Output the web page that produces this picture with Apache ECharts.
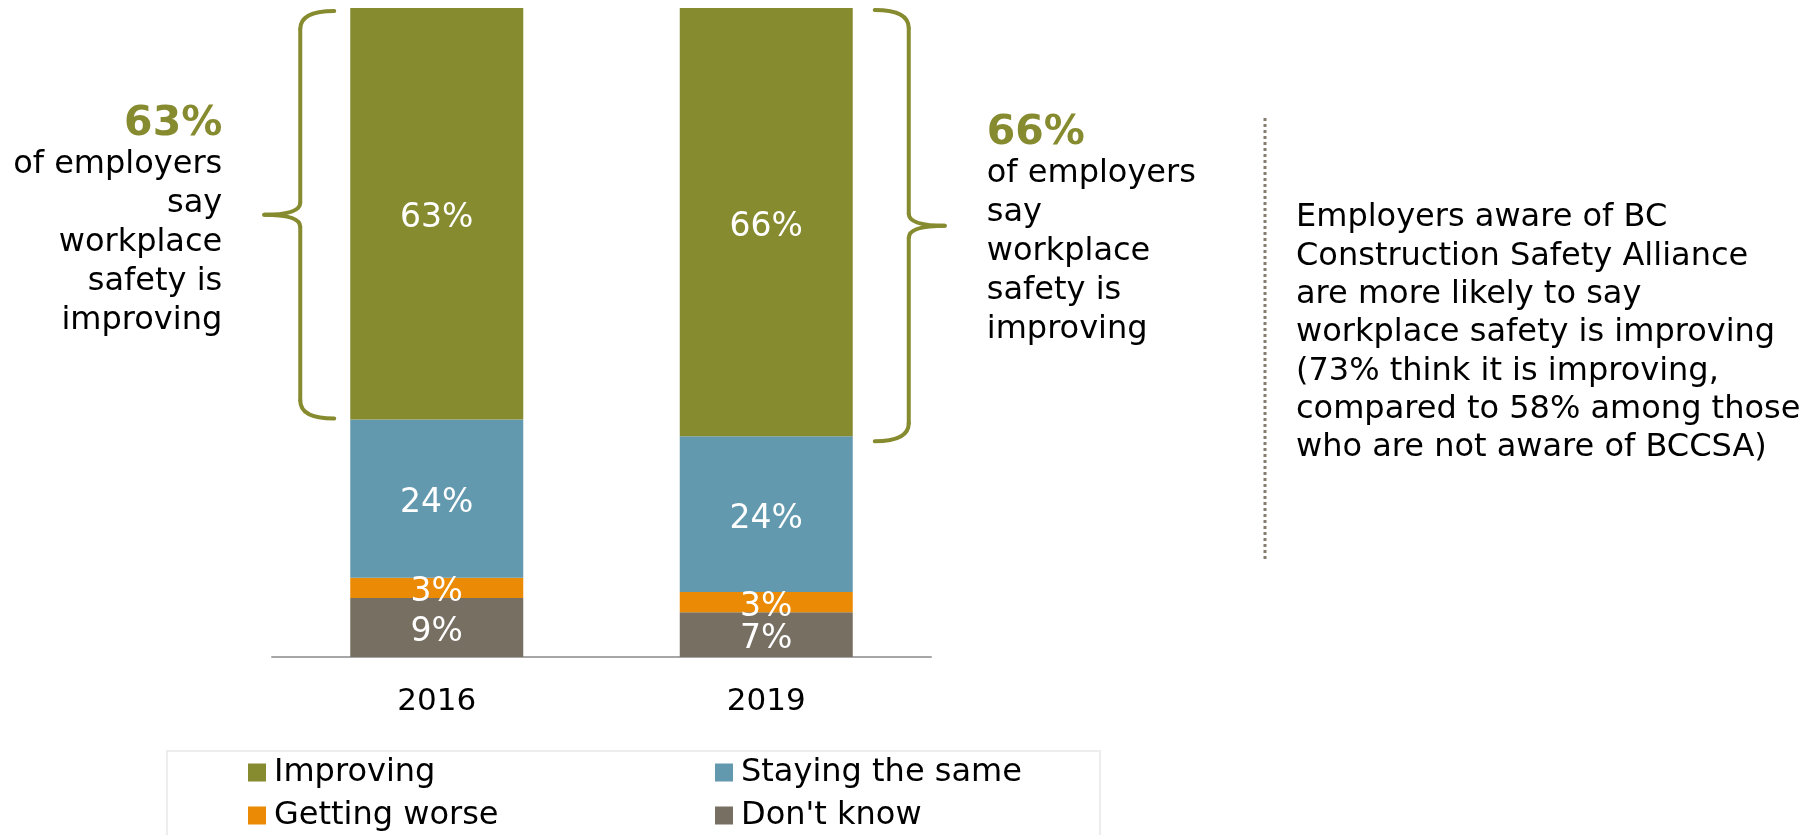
<!DOCTYPE html>
<html>
<head>
<meta charset="utf-8">
<script src="https://cdn.jsdelivr.net/npm/echarts@6/dist/echarts.min.js"></script>
<style>
html,body{margin:0;padding:0;background:#fff;}
#chart{width:1810px;height:835px;}
</style>
</head>
<body>
<div id="chart"></div>
<script>
const categories = ['2016', '2019'];
const seriesNames = ['Improving', 'Staying the same', 'Getting worse', "Don't know"];
const improving = [63.4, 66.0];
const stayingSame = [24.4, 24.0];
const gettingWorse = [3.1, 3.1];
const dontKnow = [9.1, 6.9];
const calloutLines = ['of employers', 'say', 'workplace', 'safety is', 'improving'];
const noteLines = [
  'Employers aware of BC',
  'Construction Safety Alliance',
  'are more likely to say',
  'workplace safety is improving',
  '(73% think it is improving,',
  'compared to 58% among those',
  'who are not aware of BCCSA)'
];

const FONT = 'DejaVu Sans';
const OLIVE = '#878B30';
const colors = {Improving: OLIVE, 'Staying the same': '#6399AF', 'Getting worse': '#EB8A04', "Don't know": '#786F63'};
const BAR_W = 173;

const chart = echarts.init(document.getElementById('chart'), null, {renderer: 'canvas'});

function mkSeries(name, data) {
  return {
    name: name, type: 'bar', stack: 'all', data: data, barWidth: BAR_W,
    itemStyle: {color: colors[name]},
    label: {
      show: true, position: 'inside', color: '#fff', fontSize: 33, fontFamily: FONT,
      offset: [0, 5],
      formatter: p => Math.round(p.value) + '%'
    },
    emphasis: {disabled: true}
  };
}

chart.setOption({
  animation: false,
  backgroundColor: '#fff',
  color: seriesNames.map(n => colors[n]),
  grid: {left: 272, right: 879, top: 8, bottom: 178},
  xAxis: {
    type: 'category', data: categories,
    axisLine: {lineStyle: {color: '#A6A6A6', width: 2}},
    axisTick: {show: false},
    axisLabel: {color: '#000', fontSize: 31, fontFamily: FONT, margin: 29, lineHeight: 31}
  },
  yAxis: {type: 'value', min: 0, max: 100, show: false, splitLine: {show: false}},
  legend: {
    data: seriesNames,
    left: 248, top: 751, width: 940, padding: 0,
    itemWidth: 18, itemHeight: 18, itemGap: 0,
    icon: 'rect',
    selectedMode: false,
    textStyle: {fontSize: 32, fontFamily: FONT, color: '#000', width: 441, lineHeight: 43, padding: [0, 0, 0, 3]}
  },
  series: [
    mkSeries("Don't know", dontKnow),
    mkSeries('Getting worse', gettingWorse),
    mkSeries('Staying the same', stayingSame),
    mkSeries('Improving', improving)
  ]
});

// Annotations positioned from the chart's own scales
const yTop = chart.convertToPixel({yAxisIndex: 0}, 100);
const graphics = [];
const half = BAR_W / 2;
const braceStyle = {stroke: OLIVE, lineWidth: 4, fill: null, lineCap: 'round'};

function curve(x1, y1, cx, cy, x2, y2) {
  graphics.push({type: 'bezierCurve', shape: {x1: x1, y1: y1, cpx1: cx, cpy1: cy, x2: x2, y2: y2}, style: braceStyle});
}
function seg(x1, y1, x2, y2) {
  graphics.push({type: 'line', shape: {x1: x1, y1: y1, x2: x2, y2: y2}, style: braceStyle});
}
function brace(vx, ex, tx, t, b) {
  const m = (t + b) / 2;
  curve(ex, t, vx, t, vx, t + 18);
  seg(vx, t + 18, vx, m - 12);
  curve(vx, m - 12, vx, m, tx, m);
  curve(tx, m, vx, m, vx, m + 12);
  seg(vx, m + 12, vx, b - 18);
  curve(vx, b - 18, vx, b, ex, b);
  return m;
}

function braceText(xAnchor, align, tipY, pct, dy) {
  graphics.push({
    type: 'text', x: xAnchor, y: tipY - 95 + dy,
    style: {text: pct + '%', fill: OLIVE, fontSize: 41, fontWeight: 'bold', fontFamily: FONT, align: align, verticalAlign: 'middle'}
  });
  calloutLines.forEach((t, k) => {
    graphics.push({
      type: 'text', x: xAnchor, y: tipY - 55 + dy + k * 39,
      style: {text: t, fill: '#000', fontSize: 32, fontFamily: FONT, align: align, verticalAlign: 'middle'}
    });
  });
}

categories.forEach((c, i) => {
  const xc = chart.convertToPixel({xAxisIndex: 0}, c);
  const base = dontKnow[i] + gettingWorse[i] + stayingSame[i];
  const yBase = chart.convertToPixel({yAxisIndex: 0}, base);
  if (i === 0) {
    const vx = xc - half - 50, ex = xc - half - 16, tx = xc - half - 86;
    const m = brace(vx, ex, tx, yTop + 3, yBase - 1);
    braceText(tx - 42, 'right', m, Math.round(improving[i]), 5);
  } else {
    const vx = xc + half + 56, ex = xc + half + 22, tx = xc + half + 92;
    const m = brace(vx, ex, tx, yTop + 2, yBase + 5);
    braceText(tx + 42, 'left', m, Math.round(improving[i]), 3);
  }
});

// dotted divider
graphics.push({
  type: 'line', shape: {x1: 1265, y1: 118, x2: 1265, y2: 562},
  style: {stroke: '#857C70', lineWidth: 3, lineDash: [3, 3]}
});
// side note
noteLines.forEach((t, k) => {
  graphics.push({
    type: 'text', x: 1296, y: 218 + k * 38.3,
    style: {text: t, fill: '#000', fontSize: 32, fontFamily: FONT, align: 'left', verticalAlign: 'middle'}
  });
});
// legend frame
graphics.push({
  type: 'rect', shape: {x: 167, y: 751, width: 933, height: 120},
  style: {stroke: '#EDEDED', lineWidth: 2, fill: null}, z: -1
});

chart.setOption({graphic: {elements: graphics}});
</script>
</body>
</html>
